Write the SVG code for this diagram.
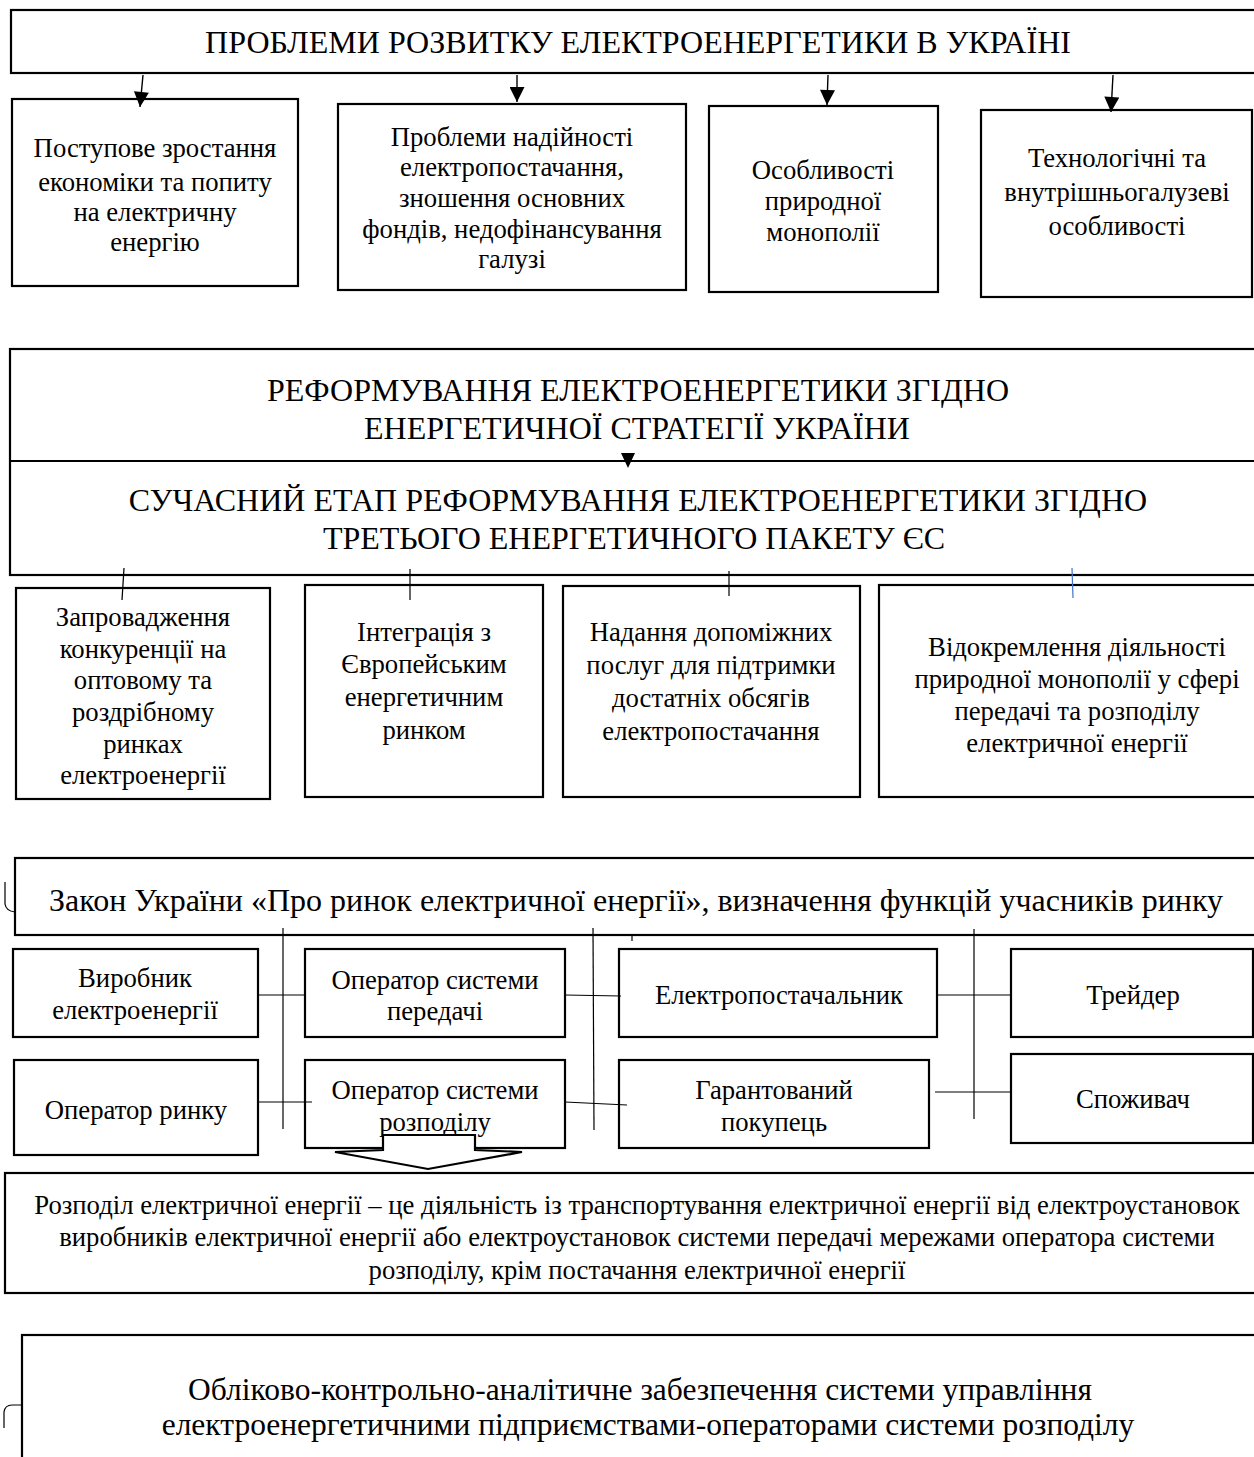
<svg xmlns="http://www.w3.org/2000/svg" width="1254" height="1457" viewBox="0 0 1254 1457">
  <style>
    .box { fill: #fff; stroke: #000; stroke-width: 2.2; }
    .t { font-family: "Liberation Serif", "Times New Roman", serif; fill: #000; text-anchor: middle; }
    .h { font-size: 32px; }
    .m { font-size: 26.7px; }
    .b { font-size: 31.5px; }
    .ln { stroke: #000; stroke-width: 1.2; fill: none; }
    .arr { stroke: #000; stroke-width: 1.4; fill: none; }
  </style>
  <defs>
    <marker id="head" viewBox="0 0 10 10" refX="10" refY="5" markerWidth="16" markerHeight="15" markerUnits="userSpaceOnUse" orient="auto">
      <path d="M0,0 L10,5 L0,10 Z" fill="#000"/>
    </marker>
  </defs>

  <!-- Section 1: problems -->
  <g id="problems">
    <rect class="box" x="11" y="10" width="1250" height="63"/>
    <text class="t h" x="638" y="53">ПРОБЛЕМИ РОЗВИТКУ ЕЛЕКТРОЕНЕРГЕТИКИ В УКРАЇНІ</text>
  </g>
  <g id="p-growth">
    <rect class="box" x="12" y="99" width="286" height="187"/>
    <text class="t m" x="155"><tspan x="155" y="157">Поступове зростання</tspan><tspan x="155" y="191">економіки та попиту</tspan><tspan x="155" y="221">на електричну</tspan><tspan x="155" y="251">енергію</tspan></text>
  </g>
  <g id="p-reliability">
    <rect class="box" x="338" y="104" width="348" height="186"/>
    <text class="t m" x="512"><tspan x="512" y="146">Проблеми надійності</tspan><tspan x="512" y="176">електропостачання,</tspan><tspan x="512" y="207">зношення основних</tspan><tspan x="512" y="238">фондів, недофінансування</tspan><tspan x="512" y="268">галузі</tspan></text>
  </g>
  <g id="p-monopoly">
    <rect class="box" x="709" y="106" width="229" height="186"/>
    <text class="t m" x="823"><tspan x="823" y="179">Особливості</tspan><tspan x="823" y="210">природної</tspan><tspan x="823" y="241">монополії</tspan></text>
  </g>
  <g id="p-tech">
    <rect class="box" x="981" y="110" width="271" height="187"/>
    <text class="t m" x="1117"><tspan x="1117" y="167">Технологічні та</tspan><tspan x="1117" y="201">внутрішньогалузеві</tspan><tspan x="1117" y="235">особливості</tspan></text>
  </g>

  <!-- Section 2: reform -->
  <g id="reform">
    <rect class="box" x="10" y="349" width="1252" height="226"/>
    <line x1="10" y1="461" x2="1254" y2="461" stroke="#000" stroke-width="2.2"/>
    <text class="t h" x="638" y="401">РЕФОРМУВАННЯ ЕЛЕКТРОЕНЕРГЕТИКИ ЗГІДНО</text>
    <text class="t h" x="637" y="439">ЕНЕРГЕТИЧНОЇ СТРАТЕГІЇ УКРАЇНИ</text>
    <text class="t h" x="638" y="511">СУЧАСНИЙ ЕТАП РЕФОРМУВАННЯ ЕЛЕКТРОЕНЕРГЕТИКИ ЗГІДНО</text>
    <text class="t h" x="634" y="549">ТРЕТЬОГО ЕНЕРГЕТИЧНОГО ПАКЕТУ ЄС</text>
  </g>
  <g id="r-competition">
    <rect class="box" x="16" y="588" width="254" height="211"/>
    <text class="t m" x="143"><tspan x="143" y="626">Запровадження</tspan><tspan x="143" y="658">конкуренції на</tspan><tspan x="143" y="689">оптовому та</tspan><tspan x="143" y="721">роздрібному</tspan><tspan x="143" y="753">ринках</tspan><tspan x="143" y="784">електроенергії</tspan></text>
  </g>
  <g id="r-integration">
    <rect class="box" x="305" y="585" width="238" height="212"/>
    <text class="t m" x="424"><tspan x="424" y="641">Інтеграція з</tspan><tspan x="424" y="673">Європейським</tspan><tspan x="424" y="706">енергетичним</tspan><tspan x="424" y="739">ринком</tspan></text>
  </g>
  <g id="r-services">
    <rect class="box" x="563" y="586" width="297" height="211"/>
    <text class="t m" x="711"><tspan x="711" y="641">Надання допоміжних</tspan><tspan x="711" y="674">послуг для підтримки</tspan><tspan x="711" y="707">достатніх обсягів</tspan><tspan x="711" y="740">електропостачання</tspan></text>
  </g>
  <g id="r-unbundling">
    <rect class="box" x="879" y="585" width="380" height="212"/>
    <text class="t m" x="1077"><tspan x="1077" y="656">Відокремлення діяльності</tspan><tspan x="1077" y="688">природної монополії у сфері</tspan><tspan x="1077" y="720">передачі та розподілу</tspan><tspan x="1077" y="752">електричної енергії</tspan></text>
  </g>

  <!-- Section 3: market law and participants -->
  <g id="law">
    <rect class="box" x="15" y="858" width="1245" height="77"/>
    <text class="t h" x="636" y="911">Закон України «Про ринок електричної енергії», визначення функцій учасників ринку</text>
  </g>
  <g id="m-producer">
    <rect class="box" x="13" y="949" width="245" height="88"/>
    <text class="t m" x="135"><tspan x="135" y="987">Виробник</tspan><tspan x="135" y="1019">електроенергії</tspan></text>
  </g>
  <g id="m-tso">
    <rect class="box" x="305" y="949" width="260" height="88"/>
    <text class="t m" x="435"><tspan x="435" y="989">Оператор системи</tspan><tspan x="435" y="1020">передачі</tspan></text>
  </g>
  <g id="m-supplier">
    <rect class="box" x="619" y="949" width="318" height="88"/>
    <text class="t m" x="779" y="1004">Електропостачальник</text>
  </g>
  <g id="m-trader">
    <rect class="box" x="1011" y="949" width="242" height="88"/>
    <text class="t m" x="1133" y="1004">Трейдер</text>
  </g>
  <g id="m-market-operator">
    <rect class="box" x="14" y="1060" width="244" height="95"/>
    <text class="t m" x="136" y="1119">Оператор ринку</text>
  </g>
  <g id="m-dso">
    <rect class="box" x="305" y="1060" width="260" height="88"/>
    <text class="t m" x="435"><tspan x="435" y="1099">Оператор системи</tspan><tspan x="435" y="1131">розподілу</tspan></text>
  </g>
  <g id="m-guaranteed-buyer">
    <rect class="box" x="619" y="1060" width="310" height="88"/>
    <text class="t m" x="774"><tspan x="774" y="1099">Гарантований</tspan><tspan x="774" y="1131">покупець</tspan></text>
  </g>
  <g id="m-consumer">
    <rect class="box" x="1011" y="1054" width="242" height="89"/>
    <text class="t m" x="1133" y="1108">Споживач</text>
  </g>

  <!-- Block arrow from the distribution operator to the definition -->
  <g id="dso-arrow">
    <polygon points="383,1135 475,1135 475,1150 522,1152 428,1169 335,1152 383,1150" fill="#fff" stroke="#000" stroke-width="2.2" stroke-linejoin="miter"/>
  </g>

  <g id="definition">
    <rect class="box" x="5" y="1173" width="1256" height="120"/>
    <text class="t m" x="637"><tspan x="637" y="1214">Розподіл електричної енергії – це діяльність із транспортування електричної енергії від електроустановок</tspan><tspan x="637" y="1246">виробників електричної енергії або електроустановок системи передачі мережами оператора системи</tspan><tspan x="637" y="1279">розподілу, крім постачання електричної енергії</tspan></text>
  </g>

  <!-- Section 4: accounting support -->
  <g id="accounting">
    <rect class="box" x="22" y="1335" width="1240" height="130"/>
    <text class="t b" x="640"><tspan x="640" y="1400">Обліково-контрольно-аналітичне забезпечення системи управління</tspan><tspan x="648" y="1435">електроенергетичними підприємствами-операторами системи розподілу</tspan></text>
  </g>

  <!-- Connectors -->
  <g id="connectors">
    <line class="arr" x1="143" y1="75" x2="140" y2="107" marker-end="url(#head)"/>
    <line class="arr" x1="517" y1="75" x2="517" y2="102" marker-end="url(#head)"/>
    <line class="arr" x1="828" y1="75" x2="827" y2="105" marker-end="url(#head)"/>
    <line class="arr" x1="1113" y1="75" x2="1111" y2="112" marker-end="url(#head)"/>
    <polygon points="621,453 635,453 628,468" fill="#000"/>

    <line class="ln" x1="124" y1="568" x2="122" y2="600"/>
    <line class="ln" x1="410" y1="569" x2="410" y2="600"/>
    <line class="ln" x1="729" y1="571" x2="729" y2="596"/>
    <line x1="1072" y1="568" x2="1073" y2="598" stroke="#4472c4" stroke-width="1.2"/>

    <line class="ln" x1="283" y1="928" x2="283" y2="1129"/>
    <line class="ln" x1="593" y1="928" x2="594" y2="1130"/>
    <line class="ln" x1="974" y1="929" x2="974" y2="1119"/>
    <line class="ln" x1="632" y1="936" x2="632" y2="941"/>

    <line class="ln" x1="258" y1="995" x2="305" y2="995"/>
    <line class="ln" x1="565" y1="995" x2="621" y2="996"/>
    <line class="ln" x1="937" y1="995" x2="1011" y2="995"/>
    <line class="ln" x1="258" y1="1102" x2="312" y2="1102"/>
    <line class="ln" x1="565" y1="1102" x2="627" y2="1105"/>
    <line class="ln" x1="935" y1="1092" x2="1011" y2="1092"/>

    <path class="ln" d="M5,882 L5,904 Q6,911 15,912"/>
    <path class="ln" d="M4,1428 L4,1412 Q5,1405 12,1405 L21,1405"/>
  </g>
</svg>
